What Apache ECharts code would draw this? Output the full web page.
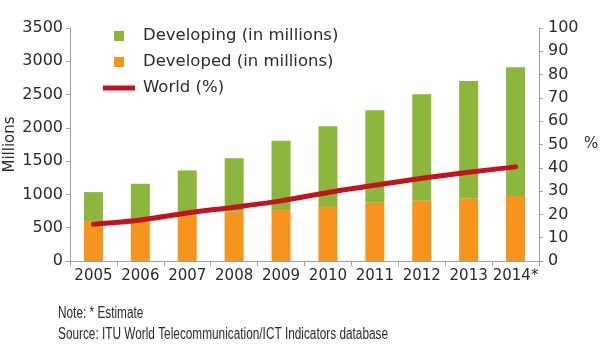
<!DOCTYPE html>
<html>
<head>
<meta charset="utf-8">
<script src="https://cdn.jsdelivr.net/npm/echarts@6/dist/echarts.min.js"></script>
<style>html,body{margin:0;padding:0;background:#fff}#c{width:600px;height:347px}</style>
</head>
<body>
<div id="c"></div>
<script>
var years = ['2005','2006','2007','2008','2009','2010','2011','2012','2013','2014*'];
var developed = [600, 635, 690, 745, 765, 810, 876, 905, 936, 975];
var developing = [435, 525, 670, 800, 1040, 1215, 1388, 1599, 1769, 1934];
var worldPct = [15.8, 17.6, 20.6, 23.1, 25.8, 29.4, 32.5, 35.5, 38.1, 40.4];
var leftTicks = {min: 0, max: 3500, interval: 500};
var rightTicks = {min: 0, max: 100, interval: 10};
var noteText = 'Note: * Estimate';
var sourceText = 'Source: ITU World Telecommunication/ICT Indicators database';

var txt = '#2b2b2b';
var axisGrey = '#a0a0a0';
var font = 'DejaVu Sans';
var footFont = '16px "Liberation Sans", sans-serif';

// condensed look for footnote: horizontal squeeze computed from measured width
var cv = document.createElement('canvas').getContext('2d');
cv.font = footFont;
var footScale = 330 / cv.measureText(sourceText).width;

var chart = echarts.init(document.getElementById('c'), null, {renderer: 'canvas'});
chart.setOption({
  animation: false,
  backgroundColor: '#ffffff',
  textStyle: {fontFamily: font, color: txt},
  grid: {left: 70, right: 61, top: 28, bottom: 86, containLabel: false, outerBoundsMode: 'none'},
  legend: {
    orient: 'vertical', left: 98, top: 21, itemWidth: 32, itemHeight: 10, itemGap: 6,
    textStyle: {fontFamily: font, fontSize: 16.5, color: txt, lineHeight: 20, padding: [0, 0, 0, 3]},
    data: [
      {name: 'Developing (in millions)', icon: 'path://M0,0h1v1h-1z'},
      {name: 'Developed (in millions)', icon: 'path://M0,0h1v1h-1z'},
      {name: 'World (%)', icon: 'path://M0,0h32v5h-32z'}
    ]
  },
  xAxis: {
    type: 'category', data: years,
    axisLine: {lineStyle: {color: axisGrey, width: 1}},
    axisTick: {show: true, length: 5, lineStyle: {color: axisGrey}},
    axisLabel: {color: txt, fontSize: 15, margin: 8, interval: 0, fontFamily: font}
  },
  yAxis: [
    {
      type: 'value', min: leftTicks.min, max: leftTicks.max, interval: leftTicks.interval,
      name: 'Millions', nameLocation: 'middle', nameGap: 52, nameMoveOverlap: false,
      nameTextStyle: {fontSize: 15, color: txt, fontFamily: font},
      axisLine: {show: true, lineStyle: {color: axisGrey}},
      axisTick: {show: true, length: 4, lineStyle: {color: axisGrey}},
      splitLine: {show: false},
      axisLabel: {color: txt, fontSize: 16, margin: 7, fontFamily: font, formatter: function (v) { return String(v); }}
    },
    {
      type: 'value', min: rightTicks.min, max: rightTicks.max, interval: rightTicks.interval,
      position: 'right',
      name: '%', nameLocation: 'middle', nameGap: 45, nameRotate: 0, nameMoveOverlap: false,
      nameTextStyle: {fontSize: 15, color: txt, fontFamily: font},
      axisLine: {show: true, lineStyle: {color: axisGrey}},
      axisTick: {show: true, length: 4, lineStyle: {color: axisGrey}},
      splitLine: {show: false},
      axisLabel: {color: txt, fontSize: 16, margin: 9, fontFamily: font, formatter: function (v) { return String(v); }}
    }
  ],
  series: [
    {
      name: 'Developed (in millions)', type: 'bar', stack: 'u', data: developed,
      barWidth: 19, itemStyle: {color: '#f7941e'}
    },
    {
      name: 'Developing (in millions)', type: 'bar', stack: 'u', data: developing,
      barWidth: 19, itemStyle: {color: '#8db63c'}
    },
    {
      name: 'World (%)', type: 'line', yAxisIndex: 1, data: worldPct,
      smooth: 0.3, symbol: 'none', z: 5,
      lineStyle: {color: '#c1141e', width: 5, cap: 'round'},
      itemStyle: {color: '#c1141e'}
    }
  ],
  graphic: [
    {type: 'text', x: 58, y: 306, scaleX: footScale, style: {text: noteText, font: footFont, fill: txt}},
    {type: 'text', x: 58, y: 327, scaleX: footScale, style: {text: sourceText, font: footFont, fill: txt}}
  ]
});
</script>
</body>
</html>
